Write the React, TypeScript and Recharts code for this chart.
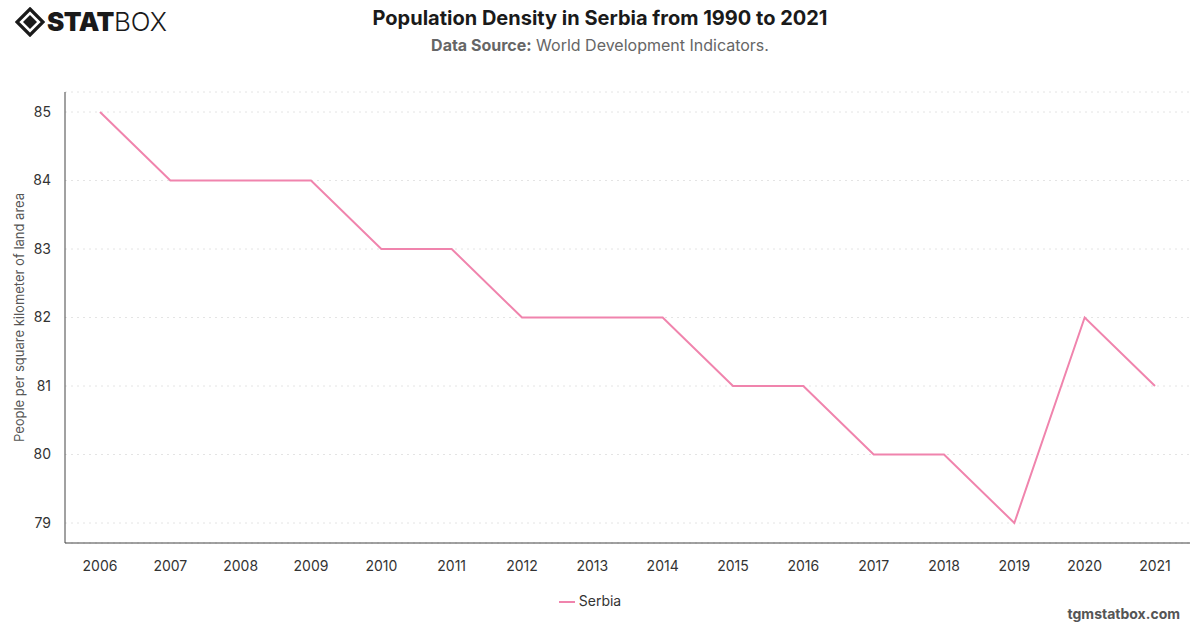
import { LineChart, Line, XAxis, YAxis, CartesianGrid, Legend } from "recharts";

const years = [
  "2006", "2007", "2008", "2009", "2010", "2011", "2012", "2013",
  "2014", "2015", "2016", "2017", "2018", "2019", "2020", "2021",
];
const serbia = [85, 84, 84, 84, 83, 83, 82, 82, 82, 81, 81, 80, 80, 79, 82, 81];
const yTicks = [79, 80, 81, 82, 83, 84, 85];

const data = years.map((year, i) => ({ year, Serbia: serbia[i] }));

const FONT = "Inter, 'Noto Sans', sans-serif";
const PINK = "#f084ad";

function Logo() {
  return (
    <div style={{ position: "absolute", left: 15, top: 6, display: "flex", alignItems: "center" }}>
      <svg width="30" height="30" viewBox="0 0 30 30">
        <path d="M15 2 L28 15 L15 28 L2 15 Z" fill="none" stroke="#1a1a1a" strokeWidth="3.2" />
        <path d="M15 8 L22 15 L15 22 L8 15 Z" fill="#1a1a1a" />
      </svg>
      <span style={{ fontFamily: FONT, fontWeight: 900, fontSize: 26, color: "#1a1a1a", marginLeft: 2, letterSpacing: -0.5 }}>
        STAT
      </span>
      <span style={{ fontFamily: FONT, fontWeight: 300, fontSize: 26, color: "#1a1a1a" }}>BOX</span>
    </div>
  );
}

export default function App() {
  return (
    <div style={{ position: "absolute", left: 0, top: 0, width: 1200, height: 628, background: "#fff", fontFamily: FONT }}>
      <Logo />
      <div style={{ position: "absolute", top: 6, left: 0, width: 1200, textAlign: "center", fontSize: 20, fontWeight: 700, color: "#1a1a1a" }}>
        Population Density in Serbia from 1990 to 2021
      </div>
      <div style={{ position: "absolute", top: 35, left: 0, width: 1200, textAlign: "center", fontSize: 16, color: "#666" }}>
        <b>Data Source:</b> World Development Indicators.
      </div>
      <LineChart width={1200} height={628} data={data} margin={{ top: 92, right: 10, bottom: 0, left: 0 }}>
        <CartesianGrid vertical={false} stroke="#e4e4e4" strokeDasharray="2 4" />
        <XAxis
          dataKey="year"
          height={40}
          padding={{ left: 35, right: 35 }}
          tickLine={false}
          axisLine={{ stroke: "#444" }}
          tick={{ fill: "#333", fontSize: 14, fontFamily: FONT }}
          tickMargin={12}
          interval={0}
        />
        <YAxis
          width={65}
          domain={[79, 85]}
          ticks={yTicks}
          padding={{ top: 20, bottom: 20 }}
          tickLine={false}
          axisLine={{ stroke: "#444" }}
          tick={{ fill: "#333", fontSize: 14, fontFamily: FONT }}
          tickMargin={8}
          label={{
            value: "People per square kilometer of land area",
            angle: -90,
            position: "insideLeft",
            offset: 19,
            style: { textAnchor: "middle", fill: "#555", fontSize: 13, fontFamily: FONT },
          }}
        />
        <Legend
          verticalAlign="bottom"
          height={45}
          iconType="plainline"
          iconSize={16}
          wrapperStyle={{ fontSize: 14, fontFamily: FONT, color: "#333", paddingTop: 9, boxSizing: "border-box", height: 45 }}
          formatter={(v) => <span style={{ color: "#333" }}>{v}</span>}
        />
        <Line
          type="linear"
          dataKey="Serbia"
          stroke={PINK}
          strokeWidth={2}
          dot={false}
          isAnimationActive={false}
        />
      </LineChart>
      <div style={{ position: "absolute", right: 20, top: 605, fontSize: 14, fontWeight: 700, color: "#555" }}>
        tgmstatbox.com
      </div>
    </div>
  );
}
